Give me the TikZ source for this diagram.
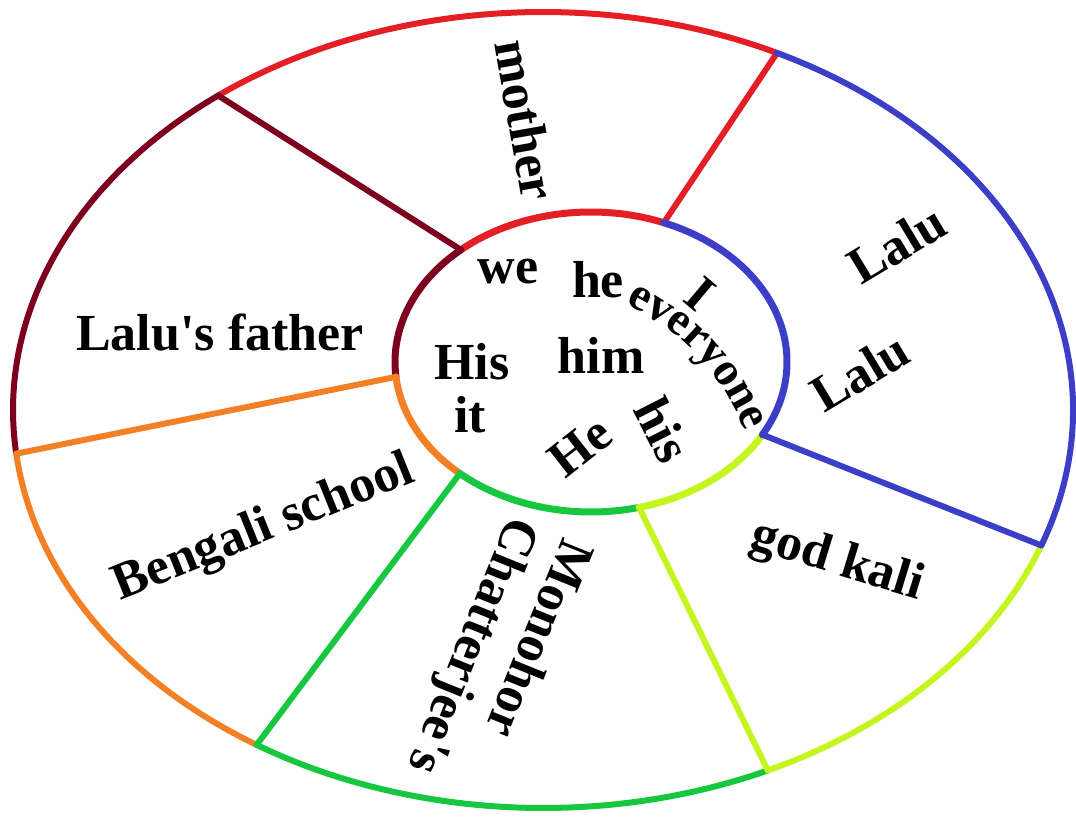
\documentclass[tikz,border=0pt]{standalone}
\usepackage{fontspec}
\setmainfont{Liberation Serif}
\usetikzlibrary{calc,decorations.text}
\definecolor{segred}{RGB}{228,30,37}
\definecolor{segmaroon}{RGB}{125,0,30}
\definecolor{segorange}{RGB}{244,128,38}
\definecolor{seggreen}{RGB}{24,199,64}
\definecolor{seglime}{RGB}{196,245,30}
\definecolor{segblue}{RGB}{60,62,200}
\tikzset{
  ring/.style={line width=0.6mm, line cap=round, line join=round},
  word/.style={font=\bfseries\fontsize{14.8}{17}\selectfont, inner sep=0pt},
}

\begin{document}
\begin{tikzpicture}[x=0.1mm, y=0.1mm]
  \useasboundingbox (0,0) rectangle (1076,816);
  \coordinate (O) at (543,406);   % outer ring
  \coordinate (C) at (591,454);   % inner ring
  \foreach \col/\oa/\ob/\ia/\ib in {segred/63.8/127.8/68.2/131.6,
      segmaroon/127.8/186.3/131.6/185.7, segorange/186.3/237.3/185.7/228,
      seggreen/237.3/295.1/228/284.2, seglime/295.1/340.1/284.2/331,
      segblue/340.1/423.8/331/428.2}{
    \coordinate (o\col) at ($(O)+(\oa:53mm and 39.8mm)$);
    \coordinate (i\col) at ($(C)+(\ia:19.6mm and 15mm)$);
    \draw[ring, draw=\col] (o\col) arc[start angle=\oa, end angle=\ob, x radius=53mm, y radius=39.8mm];
    \draw[ring, draw=\col, line width=0.7mm] (i\col) arc[start angle=\ia, end angle=\ib, x radius=19.6mm, y radius=15mm];
    \draw[ring, draw=\col] (o\col) -- (i\col);
  }

  % outer ring
  \node[word, rotate=-80] (mother) at (526,696) {mother};
  \node[word, rotate=31] (lalua) at (897,572) {Lalu};
  \node[word, rotate=31] (lalub) at (860,444) {Lalu};
  \node[word, rotate=-17] (kali) at (837,254) {god kali};
  \node[word, rotate=-112, align=left, font=\bfseries\fontsize{14.8}{16.5}\selectfont] (monohor) at (497,160) {Monohor\\Chatterjee\textquotesingle s};
  \node[word, rotate=22] (school) at (264,287) {Bengali school};
  \node[word] (father) at (220,483) {Lalu\textquotesingle s father};

  % inner ring
  \node[word] (we) at (508,544) {we};
  \node[word] (he) at (598,536) {he};
  \node[word, rotate=-40] (I) at (700,522) {I};
  \node[word] (His) at (472,454) {His};
  \node[word] (him) at (601,461) {him};
  \node[word] (it) at (470,401) {it};
  \node[word, rotate=38] (He) at (580,369) {He};
  \node[word, rotate=-63] (his) at (663,386) {his};
  \coordinate (evA) at (624,513);
  \coordinate (evB) at (746,383);
  \path[decorate, decoration={text along path, text align=center,
      text={|\bfseries\fontsize{13.4}{15}\selectfont|everyone}}] (evA) to[bend left=20] (evB);
\end{tikzpicture}
\end{document}
